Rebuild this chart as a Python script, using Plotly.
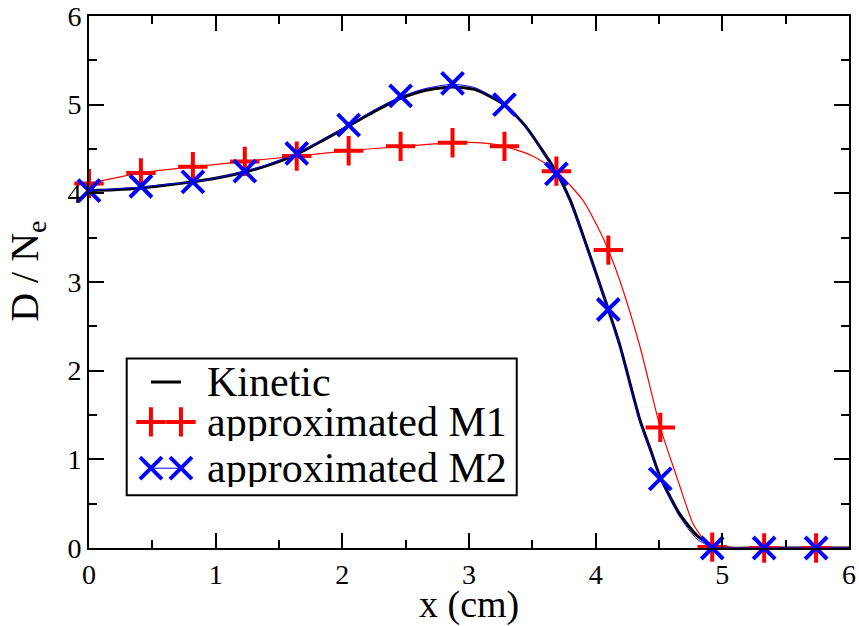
import plotly.graph_objects as go

# Sampled curves (x in cm)
x_kinetic = [0.0, 0.2, 0.41, 0.6, 0.82, 1.0, 1.23, 1.4, 1.64, 1.85, 2.05, 2.25, 2.46, 2.65,
             2.87, 3.05, 3.28, 3.45, 3.6, 3.69, 3.8, 3.95, 4.10, 4.19, 4.35, 4.43, 4.51,
             4.66, 4.80, 4.92, 5.06, 5.33, 5.74, 6.0]
kinetic = [4.03, 4.04, 4.06, 4.09, 4.13, 4.17, 4.24, 4.31, 4.44, 4.60, 4.76, 4.92, 5.07, 5.16,
           5.20, 5.17, 5.00, 4.75, 4.44, 4.24, 3.92, 3.32, 2.69, 2.29, 1.44, 1.12, 0.80,
           0.39, 0.14, 0.03, 0.0, 0.0, 0.0, 0.0]

x_m2_line = x_kinetic
m2_line = [4.03, 4.05, 4.07, 4.10, 4.13, 4.17, 4.25, 4.32, 4.45, 4.61, 4.77, 4.94, 5.09, 5.18,
           5.23, 5.19, 5.00, 4.74, 4.42, 4.22, 3.90, 3.30, 2.69, 2.28, 1.42, 1.10, 0.78,
           0.36, 0.10, 0.01, 0.0, 0.0, 0.0, 0.0]

x_m1_line = [0.0, 0.41, 0.82, 1.23, 1.64, 2.05, 2.46, 2.87, 3.1, 3.28, 3.49, 3.69, 3.9, 4.03,
             4.10, 4.19, 4.35, 4.51, 4.65, 4.77, 4.86, 4.98, 5.1, 5.5, 6.0]
m1_line = [4.11, 4.23, 4.30, 4.36, 4.42, 4.48, 4.53, 4.57, 4.57, 4.53, 4.43, 4.25, 3.92, 3.58,
           3.36, 3.02, 2.27, 1.36, 0.76, 0.27, 0.09, 0.01, 0.0, 0.0, 0.0]

# Symbol positions
x_marks = [0.0, 0.41, 0.82, 1.23, 1.64, 2.05, 2.46, 2.87, 3.28, 3.69, 4.10, 4.51, 4.92, 5.33, 5.74]
m1_marks = [4.11, 4.23, 4.30, 4.36, 4.42, 4.48, 4.53, 4.57, 4.53, 4.25, 3.36, 1.36, 0.01, 0.0, 0.0]
m2_marks = [4.03, 4.08, 4.13, 4.25, 4.45, 4.77, 5.10, 5.24, 5.00, 4.22, 2.69, 0.78, 0.0, 0.0, 0.0]

legend_labels = ["Kinetic", "approximated M1", "approximated M2"]
x_title = "x (cm)"
y_title = "D / N<sub>e</sub>"

FONT = "Liberation Serif"
RED = "#ff0000"
BLUE = "#0000ff"

fig = go.Figure()

fig.add_trace(go.Scatter(x=x_kinetic, y=kinetic, mode="lines",
                         line=dict(color="black", width=3, shape="spline", smoothing=0.6),
                         showlegend=False))
fig.add_trace(go.Scatter(x=x_m1_line, y=m1_line, mode="lines",
                         line=dict(color=RED, width=1.2, shape="spline", smoothing=0.6),
                         showlegend=False))
fig.add_trace(go.Scatter(x=x_marks, y=m1_marks, mode="markers", cliponaxis=False,
                         marker=dict(symbol="cross-thin", size=21, color=RED,
                                     line=dict(color=RED, width=4)),
                         showlegend=False))
fig.add_trace(go.Scatter(x=x_m2_line, y=m2_line, mode="lines",
                         line=dict(color=BLUE, width=1, shape="spline", smoothing=0.6),
                         showlegend=False))
fig.add_trace(go.Scatter(x=x_marks, y=m2_marks, mode="markers", cliponaxis=False,
                         marker=dict(symbol="x-thin", size=22, color=BLUE,
                                     line=dict(color=BLUE, width=4)),
                         showlegend=False))

# Legend drawn on an overlay axis in plot-area fractions
ky, m1y, m2y = 0.312, 0.237, 0.150
lx0, lx1 = 0.0815, 0.121
fig.add_trace(go.Scatter(x=[lx0, lx1], y=[ky, ky], mode="lines", xaxis="x2", yaxis="y2",
                         line=dict(color="black", width=3), showlegend=False, hoverinfo="skip"))
fig.add_trace(go.Scatter(x=[lx0, lx1], y=[m1y, m1y], mode="lines+markers", xaxis="x2", yaxis="y2",
                         line=dict(color=RED, width=1.2),
                         marker=dict(symbol="cross-thin", size=21, color=RED,
                                     line=dict(color=RED, width=4)),
                         showlegend=False, hoverinfo="skip"))
fig.add_trace(go.Scatter(x=[lx0, lx1], y=[m2y, m2y], mode="lines+markers", xaxis="x2", yaxis="y2",
                         line=dict(color=BLUE, width=1),
                         marker=dict(symbol="x-thin", size=22, color=BLUE,
                                     line=dict(color=BLUE, width=4)),
                         showlegend=False, hoverinfo="skip"))

for label, yy in zip(legend_labels, [ky, m1y, m2y]):
    fig.add_annotation(text=label, xref="paper", yref="paper", x=0.153, y=yy,
                       xanchor="left", yanchor="middle", showarrow=False, height=38,
                       font=dict(family=FONT, size=42, color="black"))

fig.add_shape(type="rect", xref="paper", yref="paper", x0=0.0496, x1=0.5628, y0=0.0991, y1=0.356,
              line=dict(color="black", width=2), fillcolor="rgba(0,0,0,0)")

# Axis titles
fig.add_annotation(text=x_title, xref="paper", yref="paper", x=0.5, y=-0.1055,
                   xanchor="center", yanchor="middle", showarrow=False,
                   font=dict(family=FONT, size=38, color="black"))
fig.add_annotation(text=y_title, xref="paper", yref="paper", x=-0.081, y=0.52,
                   xanchor="center", yanchor="middle", showarrow=False, textangle=-90,
                   font=dict(family=FONT, size=40, color="black"))

axis_common = dict(
    showline=True, linecolor="black", linewidth=2, mirror="allticks",
    ticks="inside", ticklen=15, tickwidth=2, tickcolor="black",
    showgrid=False, zeroline=False, automargin=False,
    tickfont=dict(family=FONT, size=28, color="black"),
    minor=dict(ticks="inside", ticklen=8, tickwidth=2, tickcolor="black", dtick=0.5, showgrid=False),
    dtick=1, tick0=0,
)

fig.update_layout(
    width=859, height=626,
    margin=dict(l=89, r=10, t=16, b=78),
    paper_bgcolor="white", plot_bgcolor="white",
    font=dict(family=FONT, color="black"),
    xaxis=dict(range=[0, 6], **axis_common),
    yaxis=dict(range=[0, 6], **axis_common),
    xaxis2=dict(overlaying="x", range=[0, 1], visible=False),
    yaxis2=dict(overlaying="y", range=[0, 1], visible=False),
    showlegend=False,
)

fig.write_html("out.html")
